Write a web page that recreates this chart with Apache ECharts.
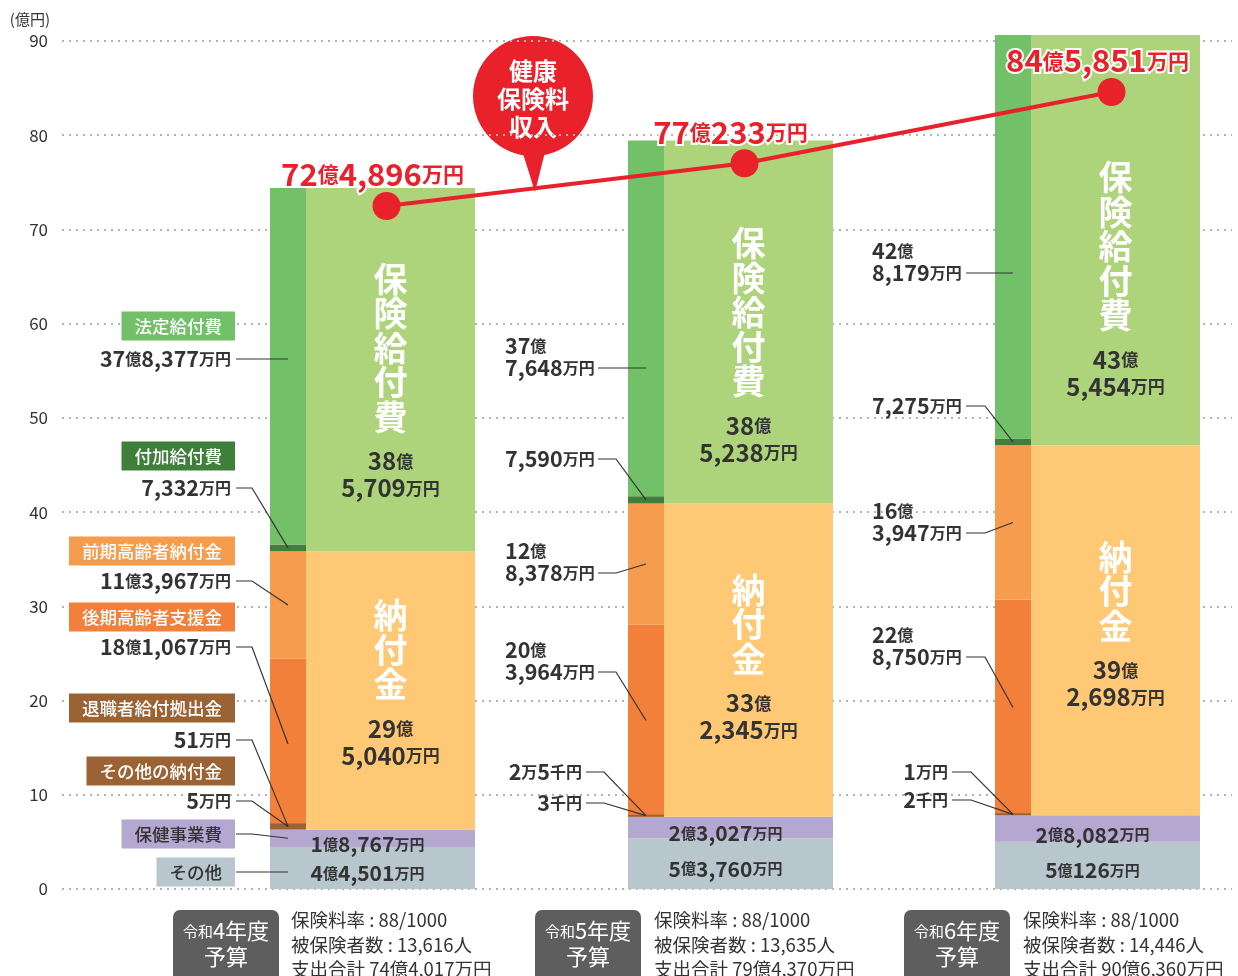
<!DOCTYPE html>
<html>
<head>
<meta charset="utf-8">
<script src="https://cdn.jsdelivr.net/npm/echarts@6/dist/echarts.min.js"></script>
<style>
  html, body { margin: 0; padding: 0; background: #fff; }
  #chart { width: 1238px; height: 976px; }
</style>
</head>
<body>
<div id="chart"></div>
<script>
// ---- data (億円) ----
const years = ['令和4年度', '令和5年度', '令和6年度']
const sonota = [4.4501, 5.376, 5.0126]           // その他
const hokenJigyo = [1.8767, 2.3027, 2.8082]      // 保健事業費
const sonotaNofu = [0.0005, 0.00003, 0.00002]    // その他の納付金
const taishoku = [0.0051, 0.00025, 0.0001]       // 退職者給付拠出金
const kouki = [18.1067, 20.3964, 22.875]         // 後期高齢者支援金
const zenki = [11.3967, 12.8378, 16.3947]        // 前期高齢者納付金
const fuka = [0.7332, 0.759, 0.7275]             // 付加給付費
const hotei = [37.8377, 37.7648, 42.8179]        // 法定給付費
const nofukin = [29.504, 33.2345, 39.2698]       // 納付金
const kyufuhi = [38.5709, 38.5238, 43.5454]      // 保険給付費
const premium = [72.4896, 77.0233, 84.5851]      // 健康保険料収入
const totals = [74.4017, 79.437, 90.636]         // 支出合計
const rates = ['88/1000', '88/1000', '88/1000']
const insured = [13616, 13635, 14446]
const yMin = 0
const yMax = 90
const yStep = 10

// ---- layout / style ----
const FONT = "'Noto Sans CJK JP', 'Noto Sans', sans-serif"
const TXT = '#333'
const RED = '#e8212a'
const C = {
  sonota: '#b8c6ce', hoken: '#b4a8d1', brown: '#9b6334', kouki: '#f2803a',
  zenki: '#f69c4f', fuka: '#3f7f3b', hotei: '#72c068', nofukin: '#fec874', kyufuhi: '#aed47b'
}
const colLeft = [270, 628, 995]
const narrowW = 36
const wideW = 169
const tinyMinPx = [6, 2, 2]
const kyufuhiShift = [12, 24, 40]
const nofukinShift = [-7, -2, -5]

const annoLayout = [
  { x: 231, align: 'right', lineX: 236, stub: 16, tinyX: 231, tinyLineX: 236, wrap: false, boxes: true },
  { x: 505, align: 'left', lineX: 598, stub: 18, tinyX: 582, tinyLineX: 586, wrap: true, boxes: false },
  { x: 872, align: 'left', lineX: 966, stub: 19, tinyX: 948, tinyLineX: 952, wrap: true, boxes: false }
]
const labelY = {
  hotei: [359, 368, 273], fuka: [488, 459, 406], zenki: [581, 573, 533],
  kouki: [647, 672, 657], taishoku: [740, 772, 772], sonotaNofu: [801, 803, 800]
}
const boxes = [
  { key: 'hotei', name: '法定給付費', y: 326, bg: C.hotei, fg: '#fff' },
  { key: 'fuka', name: '付加給付費', y: 456, bg: C.fuka, fg: '#fff' },
  { key: 'zenki', name: '前期高齢者納付金', y: 551, bg: C.zenki, fg: '#fff' },
  { key: 'kouki', name: '後期高齢者支援金', y: 617, bg: C.kouki, fg: '#fff' },
  { key: 'taishoku', name: '退職者給付拠出金', y: 708, bg: C.brown, fg: '#fff' },
  { key: 'sonotaNofu', name: 'その他の納付金', y: 771, bg: C.brown, fg: '#fff' },
  { key: 'hoken', name: '保健事業費', y: 834, bg: C.hoken, fg: TXT },
  { key: 'sonota', name: 'その他', y: 872, bg: C.sonota, fg: TXT }
]
const footerBoxX = [226, 588, 957]
const footerTextX = [291, 654, 1023]

function fmtAmount(v) {
  const sen = Math.round(v * 100000)
  const oku = Math.floor(sen / 100000)
  const man = Math.floor((sen % 100000) / 10)
  const k = sen % 10
  let s = ''
  if (oku) s += oku + '億'
  if (man) s += man.toLocaleString('en-US') + '万'
  if (k) s += k + '千'
  return s + '円'
}

function richAmount(v, n, u, brk) {
  let out = fmtAmount(v).replace(/[\d,]+|[^\d,]+/g, (m) =>
    /\d/.test(m) ? `{${n}|${m}}` : `{${u}|${m}}`)
  if (brk) out = out.replace(`{${u}|億}`, `{${u}|億}\n`)
  return out
}

function ts(size, color, weight, lh) {
  return { fontSize: size, fill: color, fontWeight: weight || 'bold', fontFamily: FONT, lineHeight: lh || size + 4 }
}

// ---- bar segments ----
const segData = []
function addSeg(x0, x1, y0, y1, color, minPx) {
  segData.push({ value: [x0, x1, y0, y1, minPx || 0], itemStyle: { color } })
}
years.forEach((_, i) => {
  const L = colLeft[i], N = L + narrowW, R = N + wideW
  const b = sonota[i] + hokenJigyo[i]
  addSeg(L, R, 0, sonota[i], C.sonota)
  addSeg(L, R, sonota[i], b, C.hoken)
  let y = b + sonotaNofu[i] + taishoku[i]
  addSeg(L, N, y, y + kouki[i], C.kouki); y += kouki[i]
  addSeg(L, N, y, y + zenki[i], C.zenki); y += zenki[i]
  addSeg(L, N, y, y + fuka[i], C.fuka); y += fuka[i]
  addSeg(L, N, y, y + hotei[i], C.hotei)
  addSeg(L, N, b, b + sonotaNofu[i] + taishoku[i], C.brown, tinyMinPx[i])
  addSeg(N, R, b, b + nofukin[i], C.nofukin)
  addSeg(N, R, b + nofukin[i], b + nofukin[i] + kyufuhi[i], C.kyufuhi)
})

const blockRich = {
  t: ts(34, '#fff', 'bold', 34.5),
  g: ts(6, '#fff', 'normal', 13.5),
  n: ts(24, TXT, 'bold', 27),
  u: ts(17, TXT, 'bold', 27)
}
const smallRich = { n: ts(21, TXT, 'bold', 22), u: ts(15, TXT, 'bold', 22) }
const annoRich = { n: ts(21.5, TXT, 'bold', 22), u: ts(16, TXT, 'bold', 22) }

function block(title, v, x, y) {
  const t = title.split('').map((c) => `{t|${c}}`).join('\n')
  return {
    type: 'text', x, y,
    style: { text: t + '\n{g| }\n' + richAmount(v, 'n', 'u', true), rich: blockRich, align: 'center', verticalAlign: 'middle' }
  }
}

function renderInner(params, api) {
  const i = params.dataIndex
  const L = colLeft[i], N = L + narrowW, R = N + wideW
  const py = (v) => api.coord([L, v])[1]
  const b = sonota[i] + hokenJigyo[i]
  const nTop = b + nofukin[i]
  const kTop = nTop + kyufuhi[i]
  const wideMid = N + wideW / 2
  const colMid = (L + R) / 2 - 5
  return {
    type: 'group',
    children: [
      block('保険給付費', kyufuhi[i], wideMid, (py(nTop) + py(kTop)) / 2 + kyufuhiShift[i]),
      block('納付金', nofukin[i], wideMid, (py(b) + py(nTop)) / 2 + nofukinShift[i]),
      { type: 'text', x: colMid, y: (py(sonota[i]) + py(b)) / 2 + 6,
        style: { text: richAmount(hokenJigyo[i], 'n', 'u'), rich: smallRich, align: 'center', verticalAlign: 'middle' } },
      { type: 'text', x: colMid, y: (py(0) + py(sonota[i])) / 2 + 5,
        style: { text: richAmount(sonota[i], 'n', 'u'), rich: smallRich, align: 'center', verticalAlign: 'middle' } }
    ]
  }
}

function line(points) {
  return { type: 'polyline', shape: { points }, style: { stroke: TXT, lineWidth: 1.2, fill: null } }
}

function renderAnno(params, api) {
  const i = params.dataIndex
  const lay = annoLayout[i]
  const L = colLeft[i], tx = L + narrowW / 2
  const py = (v) => api.coord([L, v])[1]
  const b = sonota[i] + hokenJigyo[i]
  const tinyTop = b + sonotaNofu[i] + taishoku[i]
  const koukiTop = tinyTop + kouki[i]
  const zenkiTop = koukiTop + zenki[i]
  const fukaTop = zenkiTop + fuka[i]
  const brownMid = py(b) - tinyMinPx[i] / 2
  const items = [
    { key: 'hotei', v: hotei[i], ty: null },
    { key: 'fuka', v: fuka[i], ty: (py(zenkiTop) + py(fukaTop)) / 2 },
    { key: 'zenki', v: zenki[i], ty: (py(koukiTop) + py(zenkiTop)) / 2 },
    { key: 'kouki', v: kouki[i], ty: (py(tinyTop) + py(koukiTop)) / 2 },
    { key: 'taishoku', v: taishoku[i], ty: brownMid, tiny: true },
    { key: 'sonotaNofu', v: sonotaNofu[i], ty: brownMid, tiny: true }
  ]
  const children = []
  items.forEach((it) => {
    const y = labelY[it.key][i]
    const tiny = it.tiny && lay.wrap
    const x = tiny ? lay.tinyX : lay.x
    const lx = tiny ? lay.tinyLineX : lay.lineX
    const align = tiny ? 'right' : lay.align
    const wrap = lay.wrap && !tiny && it.v >= 1
    children.push({
      type: 'text', x, y: wrap ? y + 11 : y,
      style: { text: richAmount(it.v, 'n', 'u', wrap), rich: annoRich, align, verticalAlign: wrap ? 'bottom' : 'middle' }
    })
    if (it.ty === null) children.push(line([[lx, y], [tx, y]]))
    else children.push(line([[lx, y], [lx + lay.stub, y], [tx, it.ty]]))
  })
  if (lay.boxes) {
    boxes.forEach((bx) => {
      children.push({
        type: 'text', x: 235, y: bx.y,
        style: {
          text: bx.name, fill: bx.fg, fontSize: 17.5, fontWeight: 500, fontFamily: FONT, lineHeight: 19,
          backgroundColor: bx.bg, padding: [5, 13, 5, 13], align: 'right', verticalAlign: 'middle'
        }
      })
    })
    const hy = boxes.find((bx) => bx.key === 'hoken').y
    const sy = boxes.find((bx) => bx.key === 'sonota').y
    children.push(line([[236, hy], [252, hy], [tx, (py(sonota[i]) + py(b)) / 2]]))
    children.push(line([[236, sy], [tx, sy]]))
  }
  return { type: 'group', children }
}

// ---- graphic: bubble + footer ----
const graphic = [
  { type: 'circle', shape: { cx: 533, cy: 96, r: 60 }, style: { fill: RED } },
  { type: 'polygon', shape: { points: [[520, 144], [547, 144], [535, 192]] }, style: { fill: RED } },
  { type: 'text', x: 533, y: 99,
    style: { text: '健康\n保険料\n収入', fill: '#fff', fontSize: 24, fontWeight: 'bold', fontFamily: FONT,
      lineHeight: 28, align: 'center', verticalAlign: 'middle' } }
]
years.forEach((yr, i) => {
  const cx = footerBoxX[i], tx = footerTextX[i]
  graphic.push(
    { type: 'rect', shape: { x: cx - 53, y: 910, width: 106, height: 80, r: 7 }, style: { fill: '#5e5e5e' } },
    { type: 'text', x: cx, y: 931,
      style: { text: `{s|${yr.slice(0, 2)}}{b|${yr.slice(2)}}`, align: 'center', verticalAlign: 'middle',
        rich: { s: ts(15, '#fff', 'normal', 24), b: ts(22, '#fff', 'normal', 24) } } },
    { type: 'text', x: cx, y: 957,
      style: { text: '予算', fill: '#fff', fontSize: 22, fontFamily: FONT, align: 'center', verticalAlign: 'middle' } }
  )
  const lines = [`保険料率 : ${rates[i]}`, `被保険者数 : ${insured[i].toLocaleString('en-US')}人`, `支出合計 ${fmtAmount(totals[i])}`]
  lines.forEach((t, k) => {
    graphic.push({ type: 'text', x: tx, y: 920 + k * 24.5,
      style: { text: t, fill: TXT, fontSize: 18.5, fontFamily: FONT, align: 'left', verticalAlign: 'middle' } })
  })
})

const chart = echarts.init(document.getElementById('chart'))
chart.setOption({
  animation: false,
  textStyle: { fontFamily: FONT },
  grid: { left: 62, right: 6, top: 41, bottom: 87 },
  xAxis: { type: 'value', min: 62, max: 1232, show: false },
  yAxis: {
    type: 'value', min: yMin, max: yMax, interval: yStep,
    name: '(億円)', nameLocation: 'end', nameGap: 22,
    nameTextStyle: { color: TXT, fontSize: 15, fontFamily: FONT, align: 'right', verticalAlign: 'middle', padding: [0, 12, 0, 0] },
    axisLine: { show: false }, axisTick: { show: false },
    axisLabel: { color: TXT, fontSize: 17, margin: 14, fontFamily: FONT },
    splitLine: { lineStyle: { color: '#b3b3b3', type: [2, 5], width: 2 } }
  },
  graphic,
  series: [
    {
      type: 'custom', z: 2, encode: { x: [0, 1], y: [2, 3] }, data: segData,
      renderItem: (params, api) => {
        const a = api.coord([api.value(0), api.value(2)])
        const c = api.coord([api.value(1), api.value(3)])
        const h = Math.max(a[1] - c[1], api.value(4))
        return { type: 'rect', shape: { x: a[0], y: a[1] - h, width: c[0] - a[0], height: h }, style: { fill: api.visual('color') } }
      }
    },
    { type: 'custom', z: 3, encode: { x: 0, y: 1 }, data: colLeft.map((x) => [x, 0]), renderItem: renderInner },
    { type: 'custom', z: 3, encode: { x: 0, y: 1 }, data: colLeft.map((x) => [x, 0]), renderItem: renderAnno },
    {
      type: 'line', z: 5,
      data: premium.map((v, i) => {
        const dotX = colLeft[i] + narrowW + wideW / 2 - 4
        const center = colLeft[i] + (narrowW + wideW) / 2
        return { value: [dotX, v], label: { offset: [center - dotX, 0] } }
      }),
      symbol: 'circle', symbolSize: 28,
      itemStyle: { color: RED },
      lineStyle: { color: RED, width: 4 },
      label: {
        show: true, position: 'top', distance: 2,
        formatter: (p) => richAmount(p.value[1], 'n', 'u'),
        rich: {
          n: { fontSize: 31, fontWeight: 'bold', color: RED, fontFamily: FONT, textBorderColor: '#fff', textBorderWidth: 4 },
          u: { fontSize: 21, fontWeight: 'bold', color: RED, fontFamily: FONT, textBorderColor: '#fff', textBorderWidth: 4 }
        }
      }
    }
  ]
})
</script>
</body>
</html>
